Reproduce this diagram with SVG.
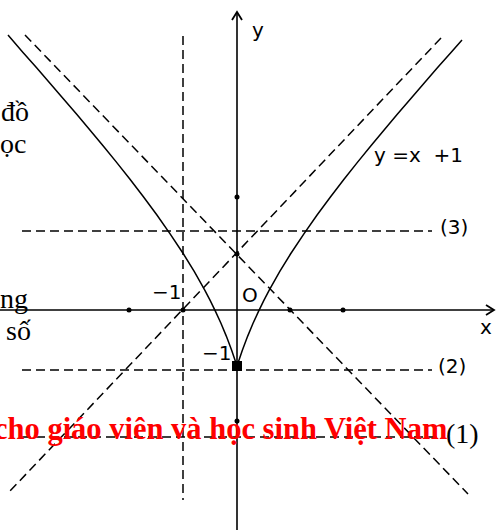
<svg xmlns="http://www.w3.org/2000/svg" width="496" height="530" viewBox="0 0 496 530">
<style>
.ax{stroke:#000;stroke-width:1.6;fill:none}
.d{stroke:#000;stroke-width:1.5;fill:none;stroke-dasharray:9,5}
.c{stroke:#000;stroke-width:1.5;fill:none}
.t{font-family:"DejaVu Sans",sans-serif;font-size:20px;fill:#000}
.s{font-family:"Liberation Serif","DejaVu Serif",serif;font-size:28px;fill:#000}
</style>
<defs>
<marker id="ar" markerWidth="12" markerHeight="12" refX="10" refY="6" orient="auto" markerUnits="userSpaceOnUse">
<path d="M2,1 L10,6 L2,11" fill="none" stroke="#000" stroke-width="1.8"/>
</marker>
</defs>
<rect width="496" height="530" fill="#fff"/>
<g id="axes">
<line class="ax" x1="0" y1="310" x2="494" y2="310" marker-end="url(#ar)"/>
<line class="ax" x1="237" y1="530" x2="237" y2="12" marker-end="url(#ar)"/>
</g>
<g id="connectors">
<line class="d" x1="183" y1="36" x2="183" y2="500"/>
<line class="d" x1="25" y1="35" x2="468" y2="494"/>
<line class="d" x1="441" y1="38" x2="10" y2="491"/>
<line class="d" x1="22" y1="231" x2="432" y2="231"/>
<line class="d" x1="22" y1="370" x2="432" y2="370"/>
<line class="d" x1="22" y1="437" x2="440" y2="437"/>
</g>
<g id="curve">
<polyline class="c" points="237,366 242.35,350.2 247.7,336.1 253.05,323.3 258.4,311.6 263.75,300.7 269.1,290.4 279.8,271.4 290.5,254 303.9,233.8 317.25,214.8 330.6,196.7 344,179.3 357.4,162.4 370.75,146 384.1,129.9 397.5,114 410.9,98.4 424.25,82.9 437.6,67.6 451,52.4 462,40"/>
<polyline class="c" points="237,366 231.65,350.2 226.3,336.1 220.95,323.3 215.6,311.6 210.25,300.7 204.9,290.4 194.2,271.4 183.5,254 170.1,233.8 156.75,214.8 143.4,196.7 130,179.3 116.6,162.4 103.25,146 89.9,129.9 76.5,114 63.1,98.4 49.75,82.9 36.4,67.6 23,52.4 8,35"/>
</g>
<g id="points">
<circle cx="129" cy="310" r="2.5"/>
<circle cx="183" cy="310" r="2.5"/>
<circle cx="290" cy="310" r="2.5"/>
<circle cx="343" cy="310" r="2.5"/>
<circle cx="237" cy="197" r="2.5"/>
<circle cx="237" cy="254" r="2.5"/>
<circle cx="237" cy="421" r="2.5"/>
<rect x="232" y="361" width="10" height="10"/>
</g>
<g id="labels">
<text class="t" x="252" y="37">y</text>
<text class="t" x="480" y="334">x</text>
<text class="t" x="242" y="302">O</text>
<text class="t" x="152" y="299">−1</text>
<text class="t" x="202" y="360">−1</text>
<text class="t" x="374" y="162" xml:space="preserve">y =x  +1</text>
<text class="t" x="440" y="234">(3)</text>
<text class="t" x="438" y="373">(2)</text>
<text class="s" x="446" y="443" font-size="25">(1)</text>
</g>
<g id="overlay">
<text class="s" x="1" y="121">đồ</text>
<text class="s" x="0" y="153">ọc</text>
<text class="s" x="0" y="308">ng</text>
<text class="s" x="6" y="340">số</text>
<text x="-6" y="439" font-family="Liberation Serif, serif" font-weight="bold" font-size="30.5" fill="#ff0000">cho giáo viên và học sinh Việt Nam</text>
</g>
</svg>
